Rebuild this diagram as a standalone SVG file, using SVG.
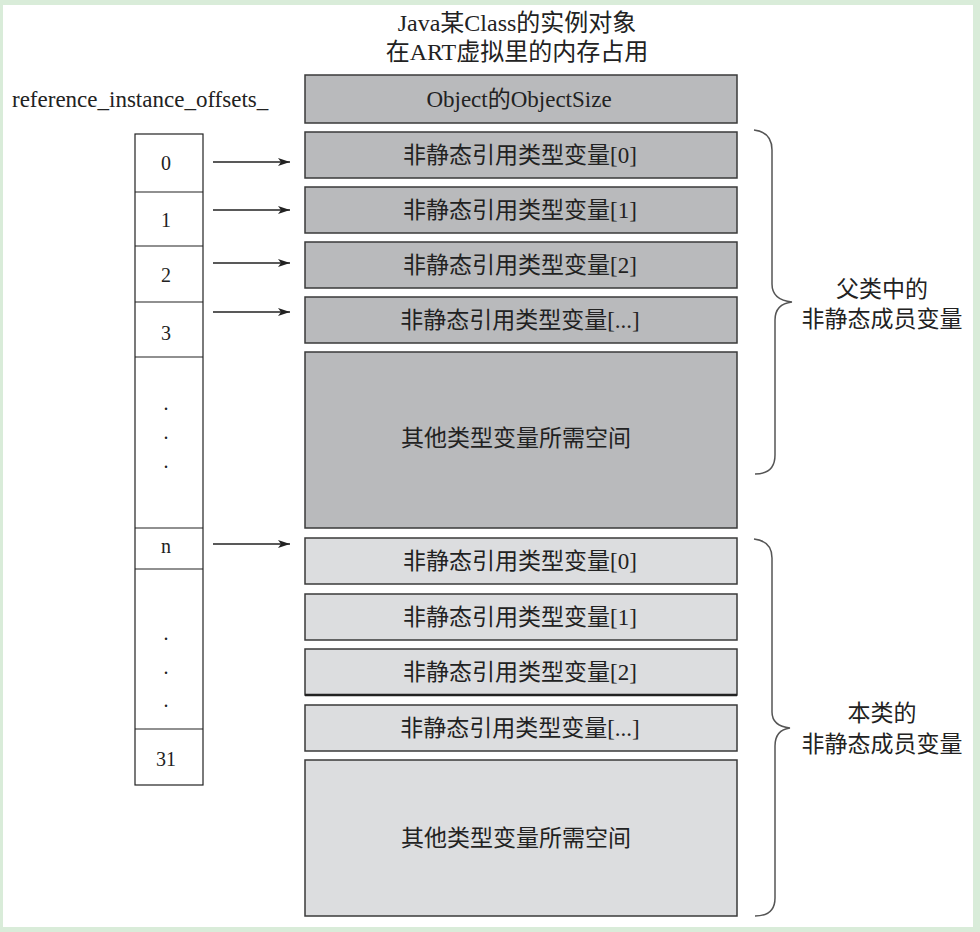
<svg xmlns="http://www.w3.org/2000/svg" width="980" height="932" viewBox="0 0 980 932">
<defs>
<style>
text{font-family:"Liberation Serif","Noto Sans CJK SC",serif;fill:#222;}
.t{font-size:24px;text-anchor:middle;}
.bl{font-size:23px;text-anchor:middle;}
.bx{font-size:23px;text-anchor:middle;}
.dk{fill:#b9babc;stroke:#3a3a3a;stroke-width:1.5;}
.lt{fill:#dcdddf;stroke:#3a3a3a;stroke-width:1.5;}
.cell{fill:#fff;stroke:#222;stroke-width:1.2;}
.num{font-size:20px;text-anchor:middle;}
.arr{stroke:#222;stroke-width:1.3;fill:none;marker-end:url(#ah);}
.br{stroke:#555;stroke-width:1.5;fill:none;}
</style>
<marker id="ah" viewBox="0 0 12 8" refX="12" refY="4" markerWidth="12" markerHeight="8" markerUnits="userSpaceOnUse" orient="auto"><path d="M0,0 L12,4 L0,8 L3,4 Z" fill="#222"/></marker>
</defs>
<rect x="0" y="0" width="980" height="932" fill="#d9ecd9"/>
<rect x="3" y="5" width="970" height="922" fill="#fff"/>

<g id="title">
<text class="t" x="517" y="31">Java某Class的实例对象</text>
<text class="t" x="517" y="60">在ART虚拟里的内存占用</text>
</g>
<g id="offsets-label"><text x="12" y="107" style="font-size:23px">reference_instance_offsets_</text></g>

<g id="offsets-table">
<rect class="cell" x="135" y="134" width="68" height="651"/>
<line x1="135" y1="192" x2="203" y2="192" stroke="#222" stroke-width="1.2"/>
<line x1="135" y1="246" x2="203" y2="246" stroke="#222" stroke-width="1.2"/>
<line x1="135" y1="302" x2="203" y2="302" stroke="#222" stroke-width="1.2"/>
<line x1="135" y1="357" x2="203" y2="357" stroke="#222" stroke-width="1.2"/>
<line x1="135" y1="528" x2="203" y2="528" stroke="#222" stroke-width="1.2"/>
<line x1="135" y1="569" x2="203" y2="569" stroke="#222" stroke-width="1.2"/>
<line x1="135" y1="729" x2="203" y2="729" stroke="#222" stroke-width="1.2"/>
<text class="num" x="166" y="170">0</text>
<text class="num" x="166" y="227">1</text>
<text class="num" x="166" y="282">2</text>
<text class="num" x="166" y="340">3</text>
<text class="num" x="166" y="410">.</text>
<text class="num" x="166" y="439">.</text>
<text class="num" x="166" y="468">.</text>
<text class="num" x="166" y="553">n</text>
<text class="num" x="166" y="640">.</text>
<text class="num" x="166" y="674">.</text>
<text class="num" x="166" y="707">.</text>
<text class="num" x="166" y="766">31</text>
</g>

<g id="parent">
<g id="obj"><rect class="dk" x="305" y="75" width="432" height="48"/><text class="bx" x="519" y="107">Object的ObjectSize</text></g>
<g id="p0"><rect class="dk" x="305" y="132" width="432" height="46"/><text class="bx" x="520" y="163">非静态引用类型变量[0]</text></g>
<g id="p1"><rect class="dk" x="305" y="187" width="432" height="46"/><text class="bx" x="520" y="218">非静态引用类型变量[1]</text></g>
<g id="p2"><rect class="dk" x="305" y="242" width="432" height="46"/><text class="bx" x="520" y="273">非静态引用类型变量[2]</text></g>
<g id="p3"><rect class="dk" x="305" y="297" width="432" height="46"/><text class="bx" x="520" y="328">非静态引用类型变量[...]</text></g>
<g id="pother"><rect class="dk" x="305" y="352" width="432" height="176"/><text class="bx" x="516" y="446">其他类型变量所需空间</text></g>
</g>

<g id="self">
<g id="s0"><rect class="lt" x="305" y="538" width="432" height="46"/><text class="bx" x="520" y="569">非静态引用类型变量[0]</text></g>
<g id="s1"><rect class="lt" x="305" y="594" width="432" height="46"/><text class="bx" x="520" y="625">非静态引用类型变量[1]</text></g>
<g id="s2"><rect class="lt" x="305" y="649" width="432" height="46"/><line x1="305" y1="695" x2="737" y2="695" stroke="#222" stroke-width="2.5"/><text class="bx" x="520" y="680">非静态引用类型变量[2]</text></g>
<g id="s3"><rect class="lt" x="305" y="705" width="432" height="46"/><text class="bx" x="520" y="736">非静态引用类型变量[...]</text></g>
<g id="sother"><rect class="lt" x="305" y="760" width="432" height="156"/><text class="bx" x="516" y="846">其他类型变量所需空间</text></g>
</g>

<g id="connectors">
<line class="arr" x1="213" y1="162" x2="290" y2="162"/>
<line class="arr" x1="213" y1="210" x2="290" y2="210"/>
<line class="arr" x1="213" y1="263" x2="290" y2="263"/>
<line class="arr" x1="213" y1="312" x2="290" y2="312"/>
<line class="arr" x1="213" y1="544" x2="290" y2="544"/>
</g>

<g id="brace-parent">
<path class="br" d="M754,130 Q772,132 772,150 L772,284 Q772,300 792,302 Q775,304 775,320 L775,455 Q775,474 755,474"/>
<text class="bl" x="882" y="297">父类中的</text>
<text class="bl" x="882" y="327">非静态成员变量</text>
</g>
<g id="brace-self">
<path class="br" d="M754,539 Q772,541 772,558 L772,712 Q772,726 790,728 Q775,730 775,746 L775,898 Q775,916 755,916"/>
<text class="bl" x="882" y="721">本类的</text>
<text class="bl" x="882" y="752">非静态成员变量</text>
</g>
</svg>
